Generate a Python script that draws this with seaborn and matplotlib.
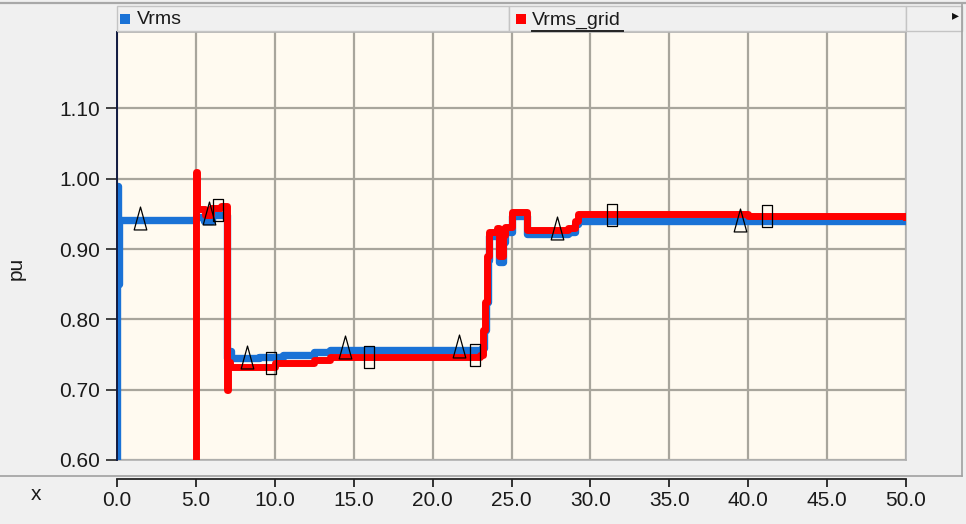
import matplotlib
matplotlib.use("Agg")
import matplotlib.pyplot as plt
from matplotlib.lines import Line2D
from matplotlib.patches import Rectangle
from matplotlib.path import Path
from matplotlib import font_manager
import seaborn as sns
import pandas as pd

# ---------------- data ----------------
vrms_t = [0.0, 0.03, 0.08, 0.15, 5.0, 5.5, 6.0, 7.0, 7.1, 7.2, 9.0, 10.5, 12.5, 13.5,
          23.1, 23.25, 23.4, 23.5, 23.6, 24.1, 24.2, 24.45, 24.6, 25.0, 26.0, 28.6,
          29.0, 29.2, 50.0]
vrms_v = [0.60, 0.99, 0.85, 0.942, 0.945, 0.94, 0.948, 0.745, 0.755, 0.745, 0.747,
          0.750, 0.753, 0.757, 0.76, 0.785, 0.825, 0.885, 0.918, 0.922, 0.882, 0.91,
          0.925, 0.947, 0.922, 0.925, 0.935, 0.940, 0.940]

vgrid_t = [5.0, 5.02, 5.1, 5.6, 5.95, 6.6, 7.0, 7.05, 7.15, 10.0, 12.5, 13.5,
           23.0, 23.2, 23.35, 23.45, 23.55, 24.1, 24.2, 24.45, 24.6, 25.0, 26.0,
           28.6, 29.0, 29.2, 40.0, 50.0]
vgrid_v = [0.60, 1.01, 0.957, 0.948, 0.958, 0.962, 0.70, 0.74, 0.733, 0.738, 0.742,
           0.746, 0.75, 0.785, 0.825, 0.89, 0.925, 0.93, 0.89, 0.92, 0.932, 0.953,
           0.927, 0.93, 0.94, 0.950, 0.947, 0.945]

tri_x = [1.46, 5.83, 8.24, 14.45, 21.67, 27.9, 39.5]
tri_y = [0.944, 0.951, 0.746, 0.761, 0.762, 0.930, 0.941]
rect_x = [6.4, 9.76, 16.0, 22.7, 31.4, 41.2]
rect_y = [0.955, 0.738, 0.746, 0.749, 0.948, 0.947]

y_ticks = [0.60, 0.70, 0.80, 0.90, 1.00, 1.10]
x_ticks = [0.0, 5.0, 10.0, 15.0, 20.0, 25.0, 30.0, 35.0, 40.0, 45.0, 50.0]
series_names = ["Vrms", "Vrms_grid"]
series_colors = ["#1a72d6", "#ff0000"]

# ---------------- fonts ----------------
installed = {f.name for f in font_manager.fontManager.ttflist}
narrow = "Liberation Sans Narrow" if "Liberation Sans Narrow" in installed else "Liberation Sans"
narrow_size = 17 if narrow == "Liberation Sans Narrow" else 15
plt.rcParams["font.family"] = ["Liberation Sans", "DejaVu Sans"]
axis_font = dict(family=[narrow, "DejaVu Sans"], size=narrow_size)

# ---------------- figure ----------------
W, H = 966, 524
fig = plt.figure(figsize=(W / 100, H / 100), dpi=100, facecolor="#f0f0f0")

def fx(px):
    return px / W

def fy(py):
    return 1 - py / H

L, R, T, B = 117, 906, 32, 460
ax = fig.add_axes([fx(L), fy(B), fx(R - L), fy(T) - fy(B)])
ax.set_facecolor("#fffaf0")

df1 = pd.DataFrame({"t": vrms_t, "v": vrms_v})
df2 = pd.DataFrame({"t": vgrid_t, "v": vgrid_v})
sns.lineplot(data=df1, x="t", y="v", ax=ax, color=series_colors[0], lw=5.3,
             estimator=None, sort=False, drawstyle="steps-post", zorder=3)
sns.lineplot(data=df2, x="t", y="v", ax=ax, color=series_colors[1], lw=5.0,
             estimator=None, sort=False, drawstyle="steps-post", zorder=4)

tri_marker = Path([(-0.55, -1), (0.55, -1), (0, 1), (-0.55, -1)],
                  [Path.MOVETO, Path.LINETO, Path.LINETO, Path.CLOSEPOLY])
rect_marker = Path([(-0.43, -1), (0.43, -1), (0.43, 1), (-0.43, 1), (-0.43, -1)],
                   [Path.MOVETO, Path.LINETO, Path.LINETO, Path.LINETO, Path.CLOSEPOLY])
ax.plot(tri_x, tri_y, linestyle="none", marker=tri_marker, markersize=16.5,
        mfc="none", mec="black", mew=0.9, zorder=5)
ax.plot(rect_x, rect_y, linestyle="none", marker=rect_marker, markersize=16,
        mfc="none", mec="black", mew=0.9, zorder=5)

ax.set_xlim(0, 50)
ax.set_ylim(0.60, 0.60 + (B - T) / 703.0)
ax.set_xticks(x_ticks)
ax.set_yticks(y_ticks)
ax.set_yticklabels([f"{v:.2f}" for v in y_ticks], color="#1a1a1a", **axis_font)
ax.tick_params(axis="x", length=0, labelbottom=False)
ax.tick_params(axis="y", length=8, width=1.3, color="#333333", pad=4)
ax.grid(True, color="#a8a59c", lw=1.6, zorder=0)
ax.set_axisbelow(True)
ax.set_xlabel("")
ax.set_ylabel("")
for s in ["top", "right", "bottom"]:
    ax.spines[s].set_color("#b0b0b0")
    ax.spines[s].set_linewidth(1.2)
ax.spines["left"].set_color("#101a40")
ax.spines["left"].set_linewidth(1.4)
ax.spines["left"].set_zorder(6)

fig.text(fx(16), fy(268), "pu", rotation=90, ha="center", va="center",
         color="#1a1a1a", **axis_font)

# separate x axis strip
ax2 = fig.add_axes([fx(L), fy(479), fx(R - L), 0.0001])
ax2.set_facecolor("none")
ax2.set_xlim(0, 50)
ax2.set_xticks(x_ticks)
ax2.set_xticklabels([f"{v:.1f}" for v in x_ticks], color="#1a1a1a", **axis_font)
ax2.set_yticks([])
ax2.tick_params(axis="x", direction="out", length=6, width=1.3, color="#222222", pad=3)
for s in ["top", "right", "left"]:
    ax2.spines[s].set_visible(False)
ax2.spines["bottom"].set_color("#222222")
ax2.spines["bottom"].set_linewidth(1.3)
fig.text(fx(36), fy(494), "x", ha="center", va="center", color="#1a1a1a", **axis_font)

# frame lines of the panel
fig.add_artist(Line2D([0, fx(962)], [fy(476), fy(476)], color="#a0a0a0", lw=1.2))
fig.add_artist(Line2D([fx(962), fx(962)], [fy(4), fy(476)], color="#a0a0a0", lw=1.2))
fig.add_artist(Line2D([0, 1], [fy(3), fy(3)], color="#a8a8a8", lw=1.6))

# legend bar (drawn as cells)
for x0, x1 in [(117, 509), (509, 906), (906, 962)]:
    fig.add_artist(Rectangle((fx(x0), fy(31)), fx(x1 - x0), fy(6) - fy(31),
                             facecolor="#f0f0f0", edgecolor="#c4c4c4", lw=1.0))
fig.add_artist(Rectangle((fx(120), fy(24)), fx(10), fy(14) - fy(24),
                         facecolor=series_colors[0], edgecolor="none"))
fig.add_artist(Rectangle((fx(516), fy(24)), fx(10), fy(14) - fy(24),
                         facecolor=series_colors[1], edgecolor="none"))
fig.text(fx(137), fy(20), series_names[0], fontsize=14, ha="left", va="center",
         color="#1a1a1a")
fig.text(fx(532), fy(20), series_names[1], fontsize=14, ha="left", va="center",
         color="#1a1a1a")
fig.add_artist(Line2D([fx(532), fx(623)], [fy(31), fy(31)], color="#222222", lw=1.4))
fig.text(fx(955), fy(15), "\u25B8", fontsize=10, ha="center", va="center",
         color="#111111", family=["DejaVu Sans"])

fig.savefig("out.png", dpi=100, facecolor=fig.get_facecolor())
